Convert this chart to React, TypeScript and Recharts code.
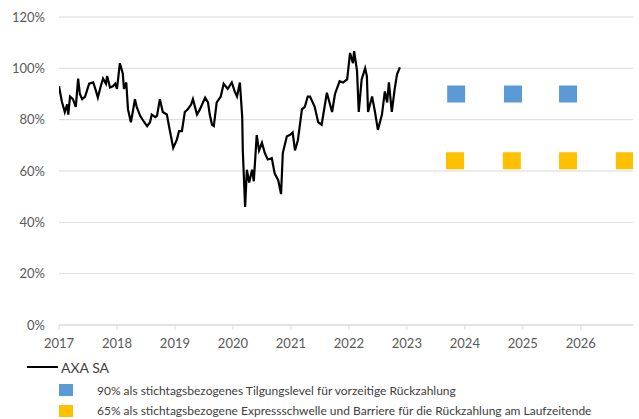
import React from "react";
import {
  ComposedChart,
  Line,
  Scatter,
  XAxis,
  YAxis,
  CartesianGrid,
} from "recharts";

// AXA SA, Schlusskurs relativ zum Startniveau (in %)
const axaDates = [
  2017.0, 2017.05, 2017.1, 2017.14, 2017.16, 2017.19, 2017.24, 2017.29, 2017.33, 2017.36,
  2017.4, 2017.45, 2017.52, 2017.59, 2017.64, 2017.67, 2017.72, 2017.76, 2017.81, 2017.83,
  2017.88, 2017.93, 2017.97, 2018.0, 2018.05, 2018.1, 2018.12, 2018.16, 2018.19, 2018.24,
  2018.28, 2018.31, 2018.34, 2018.4, 2018.47, 2018.52, 2018.57, 2018.6, 2018.66, 2018.69,
  2018.74, 2018.79, 2018.86, 2018.91, 2018.97, 2019.03, 2019.07, 2019.12, 2019.17, 2019.22,
  2019.28, 2019.31, 2019.38, 2019.43, 2019.52, 2019.57, 2019.6, 2019.64, 2019.67, 2019.72,
  2019.79, 2019.84, 2019.91, 2019.98, 2020.03, 2020.07, 2020.12, 2020.16, 2020.17, 2020.21,
  2020.24, 2020.28, 2020.33, 2020.36, 2020.41, 2020.45, 2020.5, 2020.55, 2020.6, 2020.67,
  2020.72, 2020.78, 2020.83, 2020.86, 2020.93, 2020.98, 2021.03, 2021.07, 2021.12, 2021.19,
  2021.24, 2021.29, 2021.33, 2021.41, 2021.47, 2021.53, 2021.62, 2021.71, 2021.76, 2021.84,
  2021.9, 2021.97, 2022.02, 2022.07, 2022.09, 2022.14, 2022.17, 2022.22, 2022.28, 2022.31,
  2022.33, 2022.4, 2022.45, 2022.5, 2022.57, 2022.62, 2022.66, 2022.69, 2022.74, 2022.79,
  2022.83, 2022.88,
];
const axaValues = [
  93, 87, 83, 86, 82, 89, 88, 85, 96, 90,
  88, 89, 94, 94.5, 91, 88.6, 93, 96, 94, 97,
  92.5, 93, 94, 92, 102, 98, 92, 94.5, 84, 79,
  84, 88, 85, 81.5, 79, 77.5, 79, 82, 81, 81.5,
  88, 83, 82, 76, 69, 72, 75.5, 75.5, 83, 84,
  86, 88, 82, 84, 88.6, 86.7, 82, 78, 77.5, 86.7,
  89, 94, 92, 94.5, 91, 89, 94.5, 81, 68, 46,
  60.5, 55.5, 60.5, 56, 74, 68, 71, 67, 64.5, 65,
  59, 56.5, 51, 67, 73.5, 74, 75, 68, 72, 84,
  85, 89, 89, 85, 79, 78, 90.5, 83, 90, 95,
  94.5, 95.7, 106, 102, 106.7, 99, 83, 95.7, 100, 97,
  83, 89, 83, 76, 82, 91, 86.7, 94.5, 83, 92,
  97.7, 100.4,
];

// Beobachtungstage
const earlyDates = [2023.85, 2024.83, 2025.78];
const earlyLevel = [90, 90, 90];
const finalDates = [2023.83, 2024.81, 2025.78, 2026.76];
const finalLevel = [64, 64, 64, 64];

const yearTicks = [2017, 2018, 2019, 2020, 2021, 2022, 2023, 2024, 2025, 2026];
const pctTicks = [0, 20, 40, 60, 80, 100, 120];

const legendLabels = [
  "AXA SA",
  "90% als stichtagsbezogenes Tilgungslevel für vorzeitige Rückzahlung",
  "65% als stichtagsbezogene Expressschwelle und Barriere für die Rückzahlung am Laufzeitende",
];

const axaData = axaDates.map((t, i) => ({ t, v: axaValues[i] }));
const earlyData = earlyDates.map((t, i) => ({ t, v: earlyLevel[i] }));
const finalData = finalDates.map((t, i) => ({ t, v: finalLevel[i] }));

const BLUE = "#5b9bd5";
const YELLOW = "#ffc000";
const FONT = "Lato, 'Noto Sans', sans-serif";

const square = (color: string) => (props: any) => (
  <rect x={props.cx - 9} y={props.cy - 8.5} width={18} height={17} fill={color} />
);

export default function App() {
  const tick = { fill: "#595959", fontSize: 13, fontFamily: FONT };
  return (
    <div style={{ position: "absolute", left: 0, top: 0, width: 639, height: 419, background: "#fff" }}>
      <ComposedChart
        width={639}
        height={419}
        margin={{ top: 17, right: 6, left: 0, bottom: 64 }}
      >
        <CartesianGrid vertical={false} stroke="#d9d9d9" />
        <XAxis
          type="number"
          dataKey="t"
          domain={[2017, 2026.9]}
          ticks={yearTicks}
          allowDataOverflow
          stroke="#d9d9d9"
          tickSize={5}
          tickMargin={9}
          tick={tick}
        />
        <YAxis
          type="number"
          dataKey="v"
          domain={[0, 120]}
          ticks={pctTicks}
          width={59}
          axisLine={false}
          tickLine={false}
          tickMargin={8}
          tickFormatter={(v) => `${v}%`}
          tick={tick}
        />
        <Line
          data={axaData}
          dataKey="v"
          type="linear"
          stroke="#000"
          strokeWidth={2.2}
          dot={false}
          isAnimationActive={false}
        />
        <Scatter data={earlyData} dataKey="v" shape={square(BLUE)} isAnimationActive={false} />
        <Scatter data={finalData} dataKey="v" shape={square(YELLOW)} isAnimationActive={false} />
      </ComposedChart>
      <div style={{ fontFamily: FONT, color: "#404040", fontSize: 12 }}>
        <div style={{ position: "absolute", left: 27, top: 359, display: "flex", alignItems: "center", height: 16 }}>
          <span style={{ display: "inline-block", width: 31, height: 2, background: "#000", marginRight: 3 }} />
          <span style={{ fontSize: 14 }}>{legendLabels[0]}</span>
        </div>
        <div style={{ position: "absolute", left: 59, top: 384, width: 14, height: 12, background: BLUE }} />
        <div style={{ position: "absolute", left: 97, top: 383, height: 16, lineHeight: "16px", whiteSpace: "nowrap" }}>
          {legendLabels[1]}
        </div>
        <div style={{ position: "absolute", left: 59, top: 405, width: 14, height: 12, background: YELLOW }} />
        <div style={{ position: "absolute", left: 97, top: 403, height: 16, lineHeight: "16px", whiteSpace: "nowrap" }}>
          {legendLabels[2]}
        </div>
      </div>
    </div>
  );
}
